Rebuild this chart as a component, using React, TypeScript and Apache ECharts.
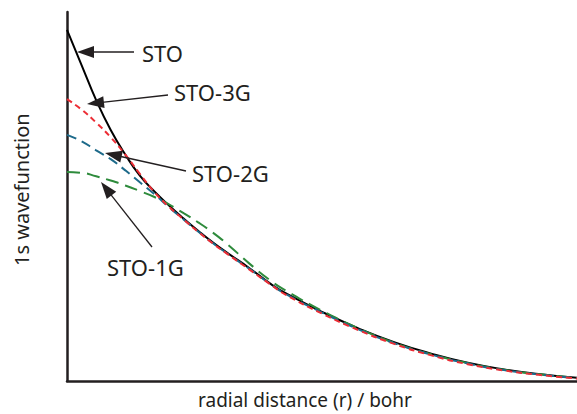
import React, { useEffect, useRef } from "react";
import * as echarts from "echarts";

// radial distance r (bohr)
const radius = [0, 0.1, 0.2, 0.3, 0.4, 0.5, 0.6, 0.7, 0.8, 0.9, 1.0, 1.1, 1.25, 1.4, 1.5, 1.75, 2.0, 2.25, 2.5, 2.75, 3.0, 3.25, 3.5];
// relative 1s wavefunction values
const sto = [1.0, 0.9, 0.8, 0.715, 0.645, 0.585, 0.54, 0.5, 0.463, 0.428, 0.395, 0.365, 0.322, 0.276, 0.25, 0.197, 0.15, 0.11, 0.078, 0.052, 0.033, 0.019, 0.009];
const sto3g = [0.803, 0.773, 0.736, 0.694, 0.645, 0.59, 0.538, 0.496, 0.46, 0.425, 0.392, 0.362, 0.318, 0.274, 0.246, 0.192, 0.145, 0.105, 0.073, 0.048, 0.03, 0.017, 0.007];
const sto2g = [0.701, 0.683, 0.657, 0.632, 0.6, 0.566, 0.532, 0.495, 0.46, 0.426, 0.393, 0.363, 0.32, 0.275, 0.248, 0.195, 0.147, 0.107, 0.075, 0.05, 0.031, 0.018, 0.008];
const sto1g = [0.595, 0.593, 0.583, 0.571, 0.557, 0.541, 0.524, 0.503, 0.478, 0.452, 0.423, 0.39, 0.335, 0.285, 0.258, 0.2, 0.15, 0.108, 0.076, 0.051, 0.032, 0.019, 0.009];

const labels = ["STO", "STO-3G", "STO-2G", "STO-1G"];

const FONT = "'Noto Sans', 'Open Sans', sans-serif";
const INK = "#231f20";

function pairs(ys: number[]) {
  return radius.map((r, i) => [r, ys[i]]);
}

function arrow(x1: number, y1: number, x2: number, y2: number) {
  const dx = x2 - x1;
  const dy = y2 - y1;
  const len = Math.sqrt(dx * dx + dy * dy);
  const ux = dx / len;
  const uy = dy / len;
  const hl = 17;
  const hw = 6;
  const bx = x2 - ux * hl;
  const by = y2 - uy * hl;
  return [
    {
      type: "line",
      shape: { x1, y1, x2: bx + ux * 2, y2: by + uy * 2 },
      style: { stroke: INK, lineWidth: 1.3 },
      z: 100,
    },
    {
      type: "polygon",
      shape: {
        points: [
          [x2, y2],
          [bx - uy * hw, by + ux * hw],
          [bx + uy * hw, by - ux * hw],
        ],
      },
      style: { fill: INK },
      z: 100,
    },
  ];
}

function label(text: string, x: number, y: number) {
  return {
    type: "text",
    x,
    y,
    style: { text, font: `22px ${FONT}`, fill: INK, verticalAlign: "middle", align: "left" },
    z: 100,
  };
}

export default function App() {
  const ref = useRef<HTMLDivElement>(null);
  useEffect(() => {
    if (!ref.current) return;
    const chart = echarts.init(ref.current, null, { renderer: "svg" });
    const lineSeries = (name: string, ys: number[], color: string, width: number, dash: any, z: number) => ({
      name,
      type: "line",
      data: pairs(ys),
      smooth: true,
      showSymbol: false,
      symbol: "none",
      z,
      lineStyle: { color, width, type: dash },
    });
    chart.setOption({
      animation: false,
      backgroundColor: "#ffffff",
      grid: { left: 67, right: 0, top: 12, bottom: 33, containLabel: false },
      xAxis: {
        type: "value",
        min: 0,
        max: 3.5,
        axisLine: { show: true, lineStyle: { color: INK, width: 2.5 } },
        axisTick: { show: false },
        axisLabel: { show: false },
        splitLine: { show: false },
      },
      yAxis: {
        type: "value",
        min: 0,
        max: 1.051,
        axisLine: { show: true, lineStyle: { color: INK, width: 2.5 } },
        axisTick: { show: false },
        axisLabel: { show: false },
        splitLine: { show: false },
      },
      series: [
        lineSeries(labels[0], sto, "#000000", 2, "solid", 2),
        lineSeries(labels[3], sto1g, "#2e8b3c", 2, [13, 7], 3),
        lineSeries(labels[2], sto2g, "#1d6a8a", 2, [10, 6], 4),
        lineSeries(labels[1], sto3g, "#ec2d35", 2, [6, 4], 5),
      ],
      graphic: [
        label(labels[0], 142, 53),
        label(labels[1], 174, 92),
        label(labels[2], 192, 173),
        label(labels[3], 107, 267),
        ...arrow(134, 52, 77, 52),
        ...arrow(168, 95, 87, 104),
        ...arrow(186, 171, 105, 153),
        ...arrow(152, 247, 101, 182),
        {
          type: "text",
          x: 198,
          y: 400,
          style: { text: "radial distance (r) / bohr", font: `19px ${FONT}`, fill: INK, verticalAlign: "middle" },
        },
        {
          type: "text",
          x: 11,
          y: 266,
          rotation: Math.PI / 2,
          style: { text: "1s wavefunction", font: `20px ${FONT}`, fill: INK },
        },
      ],
    });
    return () => chart.dispose();
  }, []);
  return (
    <div
      ref={ref}
      style={{ position: "fixed", left: 0, top: 0, width: 577, height: 414, background: "#fff" }}
    />
  );
}
